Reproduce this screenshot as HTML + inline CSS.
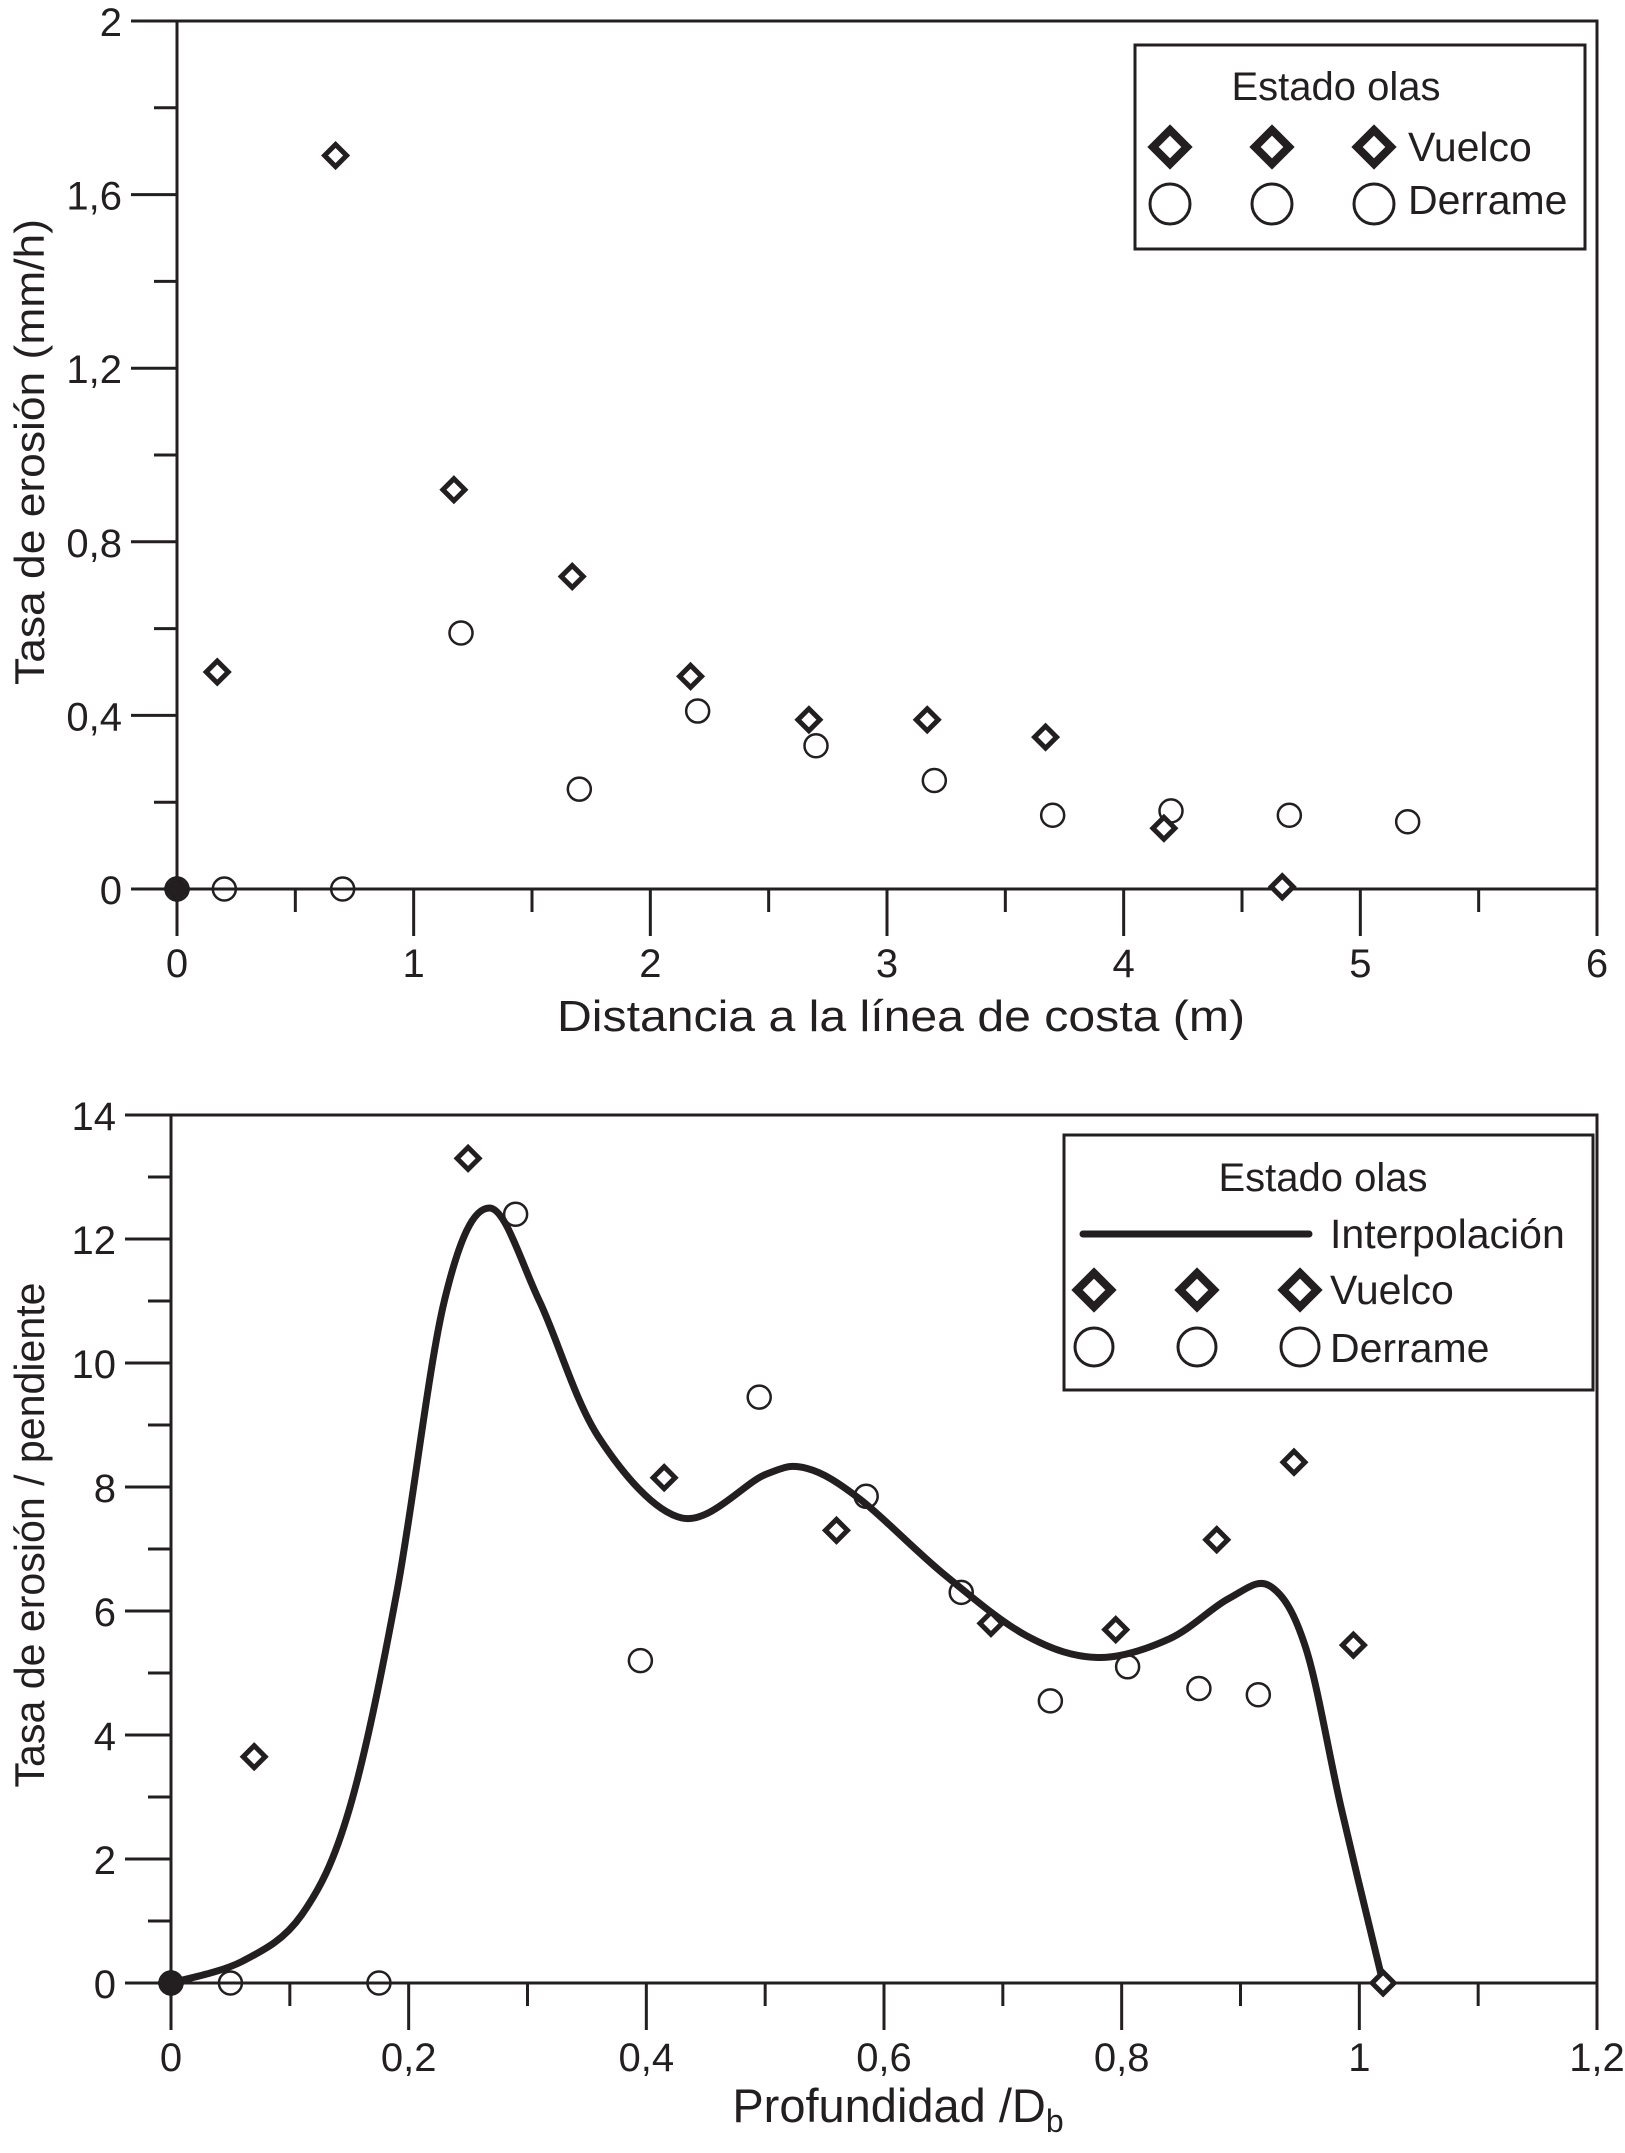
<!DOCTYPE html>
<html><head><meta charset="utf-8"><style>
html,body{margin:0;padding:0;background:#fff}
svg{display:block}
text{font-family:"Liberation Sans",sans-serif;fill:#231f20}
</style></head><body>
<svg id="fig" width="1625" height="2153" viewBox="0 0 1625 2153" xmlns="http://www.w3.org/2000/svg">
<g id="top"></g>
<g id="bot"></g>
</svg>
<script>
// Top chart data
const topVuelcoX = [0, 0.17, 0.67, 1.17, 1.67, 2.17, 2.67, 3.17, 3.67, 4.17, 4.67];
const topVuelcoY = [0, 0.50, 1.69, 0.92, 0.72, 0.49, 0.39, 0.39, 0.35, 0.14, 0.005];
const topDerrameX = [0, 0.2, 0.7, 1.2, 1.7, 2.2, 2.7, 3.2, 3.7, 4.2, 4.7, 5.2];
const topDerrameY = [0, 0, 0, 0.59, 0.23, 0.41, 0.33, 0.25, 0.17, 0.18, 0.17, 0.155];
const topXTicks = ["0","1","2","3","4","5","6"];
const topYTicks = ["0","0,4","0,8","1,2","1,6","2"];
// Bottom chart data
const botVuelcoX = [0, 0.07, 0.25, 0.415, 0.56, 0.69, 0.795, 0.88, 0.945, 0.995, 1.02];
const botVuelcoY = [0, 3.65, 13.3, 8.15, 7.3, 5.8, 5.7, 7.15, 8.4, 5.45, 0];
const botDerrameX = [0, 0.05, 0.175, 0.29, 0.395, 0.495, 0.585, 0.665, 0.74, 0.805, 0.865, 0.915];
const botDerrameY = [0, 0, 0, 12.4, 5.2, 9.45, 7.85, 6.3, 4.55, 5.1, 4.75, 4.65];
const interpX = [0, 0.06, 0.11, 0.15, 0.19, 0.23, 0.268, 0.31, 0.36, 0.43, 0.5, 0.535, 0.58, 0.65, 0.72, 0.78, 0.84, 0.89, 0.925, 0.955, 0.985, 1.02];
const interpY = [0, 0.35, 1.1, 2.8, 6.3, 11.0, 12.5, 11.0, 8.8, 7.5, 8.2, 8.3, 7.8, 6.6, 5.6, 5.25, 5.55, 6.2, 6.4, 5.4, 2.8, 0];
const botXTicks = ["0","0,2","0,4","0,6","0,8","1","1,2"];
const botYTicks = ["0","2","4","6","8","10","12","14"];

const NS="http://www.w3.org/2000/svg";
function mk(parent,tag,attrs,txt){const e=document.createElementNS(NS,tag);for(const k in attrs)e.setAttribute(k,attrs[k]);if(txt!==undefined)e.textContent=txt;parent.appendChild(e);return e;}
const C="#231f20";

function diamond(g,x,y,h,sw){
  const e=mk(g,"polygon",{points:`${x},${y-h} ${x+h},${y} ${x},${y+h} ${x-h},${y}`,fill:"#fff",stroke:C,"stroke-width":sw,"stroke-linejoin":"miter"});
  
  
  return e;
}
function circle(g,x,y,r,sw){
  const e=mk(g,"circle",{cx:x,cy:y,r:r,fill:"none",stroke:C,"stroke-width":sw});
  
  
  return e;
}

function axes(g,o){
  const {x0,x1,y0,y1,xmin,xmax,ymin,ymax,xTicks,yTicks,xMinor,yMinor}=o;
  const sx=v=>x0+(v-xmin)/(xmax-xmin)*(x1-x0);
  const sy=v=>y0-(v-ymin)/(ymax-ymin)*(y0-y1);
  const frame=mk(g,"path",{d:`M${x0-46},${y1} H${x1} V${y0} M${x0},${y1} V${y0+47} M${x0-46},${y0} H${x1}`,fill:"none",stroke:C,"stroke-width":3});
  
  
  const n=xTicks.length;
  for(let i=0;i<n;i++){
    const v=xmin+i*(xmax-xmin)/(n-1), X=sx(v);
    const t=mk(g,"line",{x1:X,y1:y0,x2:X,y2:y0+47,stroke:C,"stroke-width":3});
    
    
    const l=mk(g,"text",{x:X,y:y0+88,"font-size":40,"text-anchor":"middle"},xTicks[i]);
    
    
    if(i<n-1){for(let k=1;k<xMinor;k++){const Xm=sx(v+k*(xmax-xmin)/(n-1)/xMinor);
      const m=mk(g,"line",{x1:Xm,y1:y0,x2:Xm,y2:y0+23,stroke:C,"stroke-width":3});
      
      }}
  }
  const ny=yTicks.length;
  for(let i=0;i<ny;i++){
    const v=ymin+i*(ymax-ymin)/(ny-1), Y=sy(v);
    const t=mk(g,"line",{x1:x0-46,y1:Y,x2:x0,y2:Y,stroke:C,"stroke-width":3});
    
    
    const l=mk(g,"text",{x:x0-55,y:Y+15,"font-size":40,"text-anchor":"end"},yTicks[i]);
    
    
    if(i<ny-1){for(let k=1;k<yMinor;k++){const Ym=sy(v+k*(ymax-ymin)/(ny-1)/yMinor);
      const m=mk(g,"line",{x1:x0-23,y1:Ym,x2:x0,y2:Ym,stroke:C,"stroke-width":3});
      
      }}
  }
  return {sx,sy};
}

function smoothPath(pts){
  let d=`M${pts[0][0]},${pts[0][1]}`;
  for(let i=0;i<pts.length-1;i++){
    const p0=pts[Math.max(0,i-1)],p1=pts[i],p2=pts[i+1],p3=pts[Math.min(pts.length-1,i+2)];
    const c1=[p1[0]+(p2[0]-p0[0])/6,p1[1]+(p2[1]-p0[1])/6];
    const c2=[p2[0]-(p3[0]-p1[0])/6,p2[1]-(p3[1]-p1[1])/6];
    d+=` C${c1[0]},${c1[1]} ${c2[0]},${c2[1]} ${p2[0]},${p2[1]}`;
  }
  return d;
}

// ---- TOP CHART ----
const gt=document.getElementById('top');
const T=axes(gt,{x0:177,x1:1597,y0:889,y1:21,xmin:0,xmax:6,ymin:0,ymax:2,xTicks:topXTicks,yTicks:topYTicks,xMinor:2,yMinor:2});
topDerrameX.forEach((v,i)=>circle(gt,T.sx(v),T.sy(topDerrameY[i]),11.5,2.5));
topVuelcoX.forEach((v,i)=>diamond(gt,T.sx(v),T.sy(topVuelcoY[i]),11,5));
mk(gt,"circle",{cx:T.sx(0),cy:T.sy(0),r:8,fill:C});
let e=mk(gt,"text",{x:901,y:1031,"font-size":44,"text-anchor":"middle",textLength:688,lengthAdjust:"spacingAndGlyphs"},"Distancia a la línea de costa (m)");


e=mk(gt,"text",{x:0,y:0,"font-size":42,"text-anchor":"middle",transform:"translate(44,452) rotate(-90)",textLength:466,lengthAdjust:"spacingAndGlyphs"},"Tasa de erosión (mm/h)");


const lt=mk(gt,"g",{});


mk(lt,"rect",{x:1135,y:45,width:450,height:204,fill:"#fff",stroke:C,"stroke-width":3});
mk(lt,"text",{x:1336,y:100,"font-size":40,"text-anchor":"middle"},"Estado olas");
[1170,1272,1374].forEach(x=>{diamond(lt,x,147,17,8);circle(lt,x,204,20,3);});
e=mk(lt,"text",{x:1408,y:161,"font-size":41},"Vuelco");


e=mk(lt,"text",{x:1408,y:214,"font-size":41},"Derrame");



// ---- BOTTOM CHART ----
const gb=document.getElementById('bot');
const B=axes(gb,{x0:171,x1:1597,y0:1983,y1:1115,xmin:0,xmax:1.2,ymin:0,ymax:14,xTicks:botXTicks,yTicks:botYTicks,xMinor:2,yMinor:2});
const pts=interpX.map((v,i)=>[B.sx(v),B.sy(interpY[i])]);
e=mk(gb,"path",{d:smoothPath(pts),fill:"none",stroke:C,"stroke-width":7,"stroke-linecap":"round","stroke-linejoin":"round"});


botDerrameX.forEach((v,i)=>circle(gb,B.sx(v),B.sy(botDerrameY[i]),11.5,2.5));
botVuelcoX.forEach((v,i)=>diamond(gb,B.sx(v),B.sy(botVuelcoY[i]),11,5));
mk(gb,"circle",{cx:B.sx(0),cy:B.sy(0),r:12,fill:C});
e=mk(gb,"text",{x:898,y:2122,"font-size":47,"text-anchor":"middle"});


e.textContent="Profundidad /D";
mk(e,"tspan",{"font-size":32,dy:10},"b");
e=mk(gb,"text",{x:0,y:0,"font-size":42,"text-anchor":"middle",transform:"translate(44,1535) rotate(-90)",textLength:505,lengthAdjust:"spacingAndGlyphs"},"Tasa de erosión / pendiente");


const lb=mk(gb,"g",{});


mk(lb,"rect",{x:1064,y:1135,width:529,height:255,fill:"#fff",stroke:C,"stroke-width":3});
mk(lb,"text",{x:1323,y:1191,"font-size":40,"text-anchor":"middle"},"Estado olas");
mk(lb,"line",{x1:1083,y1:1234,x2:1309,y2:1234,stroke:C,"stroke-width":7,"stroke-linecap":"round"});
e=mk(lb,"text",{x:1330,y:1248,"font-size":41},"Interpolación");


[1094,1197,1300].forEach(x=>{diamond(lb,x,1290,17,8);circle(lb,x,1347,19,3);});
e=mk(lb,"text",{x:1330,y:1304,"font-size":41},"Vuelco");


e=mk(lb,"text",{x:1330,y:1362,"font-size":41},"Derrame");


</script>
</body></html>
